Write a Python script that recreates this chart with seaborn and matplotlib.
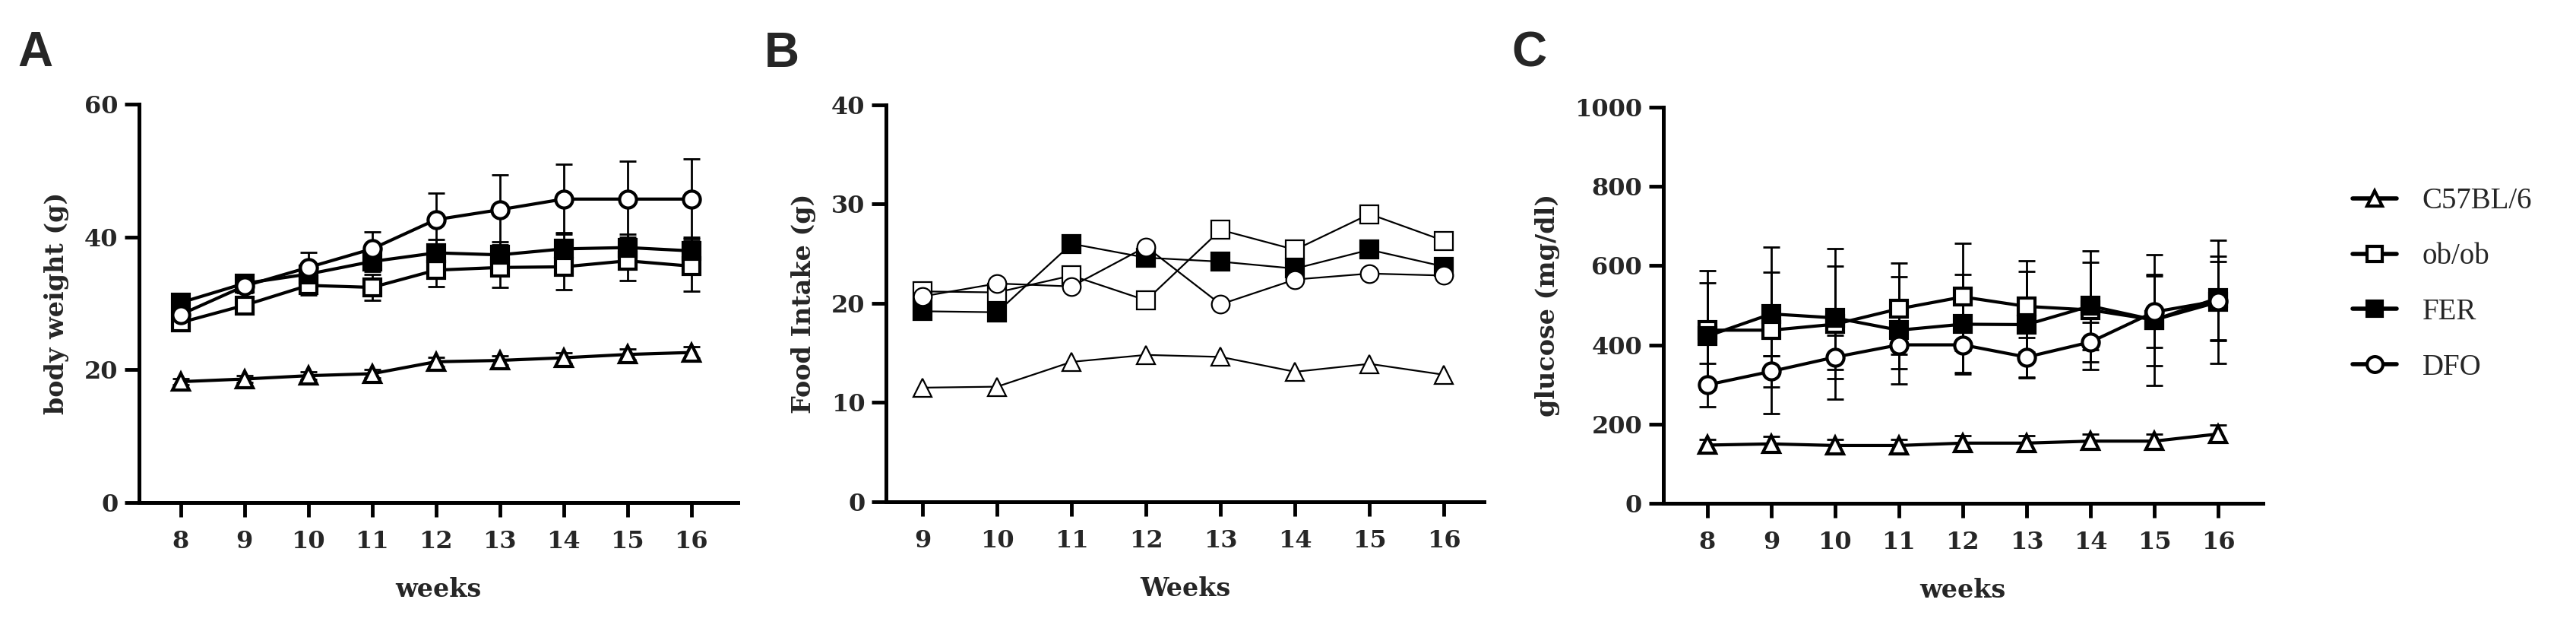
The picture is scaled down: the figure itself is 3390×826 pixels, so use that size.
import numpy as np
import pandas as pd
import seaborn as sns
import matplotlib.pyplot as plt
from matplotlib.lines import Line2D

sns.set_style("ticks")
plt.rcParams['font.family'] = ['DejaVu Serif']

groups = ["C57BL/6", "ob/ob", "FER", "DFO"]

# Panel A: body weight (g), mean and SD
weeks_a = [8, 9, 10, 11, 12, 13, 14, 15, 16]
bw_c57 = [18.2, 18.6, 19.1, 19.4, 21.2, 21.4, 21.8, 22.3, 22.6]
bw_ob = [27.1, 29.7, 32.7, 32.4, 35.0, 35.4, 35.5, 36.4, 35.6]
bw_fer = [30.1, 33.0, 34.4, 36.3, 37.6, 37.3, 38.2, 38.4, 37.9]
bw_dfo = [28.3, 32.6, 35.4, 38.2, 42.6, 44.1, 45.7, 45.7, 45.7]
bw_c57_sd = [0.5, 0.5, 0.6, 0.6, 0.7, 0.7, 0.8, 0.8, 0.9]
bw_ob_sd = [0.8, 0.8, 1.5, 2.0, 2.5, 3.0, 3.5, 3.0, 3.8]
bw_fer_sd = [0.6, 0.8, 1.0, 1.5, 2.0, 2.0, 2.5, 2.0, 2.0]
bw_dfo_sd = [0.8, 1.0, 2.3, 2.6, 4.0, 5.3, 5.3, 5.7, 6.0]

# Panel B: food intake (g)
weeks_b = [9, 10, 11, 12, 13, 14, 15, 16]
fi_c57 = [11.5, 11.6, 14.1, 14.8, 14.6, 13.1, 13.9, 12.8]
fi_ob = [21.2, 21.1, 22.8, 20.3, 27.4, 25.4, 29.0, 26.3]
fi_fer = [19.2, 19.1, 26.0, 24.6, 24.2, 23.5, 25.4, 23.7]
fi_dfo = [20.7, 22.0, 21.7, 25.7, 19.9, 22.4, 23.0, 22.8]

# Panel C: glucose (mg/dl), mean and SD
weeks_c = [8, 9, 10, 11, 12, 13, 14, 15, 16]
gl_c57 = [147, 150, 146, 146, 152, 152, 157, 157, 175]
gl_ob = [437, 437, 452, 491, 521, 497, 488, 463, 508]
gl_fer = [422, 478, 468, 437, 452, 451, 498, 463, 518]
gl_dfo = [299, 333, 369, 400, 400, 369, 407, 483, 511]
gl_c57_sd = [15, 18, 15, 15, 18, 18, 18, 18, 22]
gl_ob_sd = [150, 210, 190, 115, 135, 115, 150, 165, 155]
gl_fer_sd = [135, 105, 130, 135, 125, 135, 110, 115, 105]
gl_dfo_sd = [55, 40, 55, 60, 70, 50, 50, 90, 100]

marker_of = {"C57BL/6": "^", "ob/ob": "s", "FER": "s", "DFO": "o"}
face_of = {"C57BL/6": "white", "ob/ob": "white", "FER": "black", "DFO": "white"}

fig = plt.figure(figsize=(33.9, 8.26), dpi=100)
ax_a = fig.add_axes([0.0540, 0.1998, 0.2324, 0.6344])
ax_b = fig.add_axes([0.3440, 0.2010, 0.2322, 0.6320])
ax_c = fig.add_axes([0.6457, 0.1985, 0.2327, 0.6310])


def draw(ax, weeks, series, sds, lw, ms):
    for g, vals in zip(groups, series):
        df = pd.DataFrame({"week": weeks, "value": vals})
        sns.lineplot(data=df, x="week", y="value", ax=ax, color="black",
                     lw=lw, marker=marker_of[g], markersize=ms,
                     markerfacecolor=face_of[g], markeredgecolor="black",
                     markeredgewidth=lw, zorder=3)
    if sds is not None:
        for vals, sd in zip(series, sds):
            ax.errorbar(weeks, vals, yerr=sd, fmt="none", ecolor="black",
                        elinewidth=2.0, capsize=8, capthick=2.0, zorder=2)


draw(ax_a, weeks_a, [bw_c57, bw_ob, bw_fer, bw_dfo],
     [bw_c57_sd, bw_ob_sd, bw_fer_sd, bw_dfo_sd], 3.0, 16)
draw(ax_b, weeks_b, [fi_c57, fi_ob, fi_fer, fi_dfo], None, 1.6, 17)
draw(ax_c, weeks_c, [gl_c57, gl_ob, gl_fer, gl_dfo],
     [gl_c57_sd, gl_ob_sd, gl_fer_sd, gl_dfo_sd], 3.0, 16)

setup = [
    (ax_a, (7.35, 16.73), weeks_a, (0, 60), [0, 20, 40, 60], "weeks", "body weight (g)", "A"),
    (ax_b, (8.51, 16.54), weeks_b, (0, 40), [0, 10, 20, 30, 40], "Weeks", "Food Intake (g)", "B"),
    (ax_c, (7.31, 16.70), weeks_c, (0, 1000), [0, 200, 400, 600, 800, 1000], "weeks", "glucose (mg/dl)", "C"),
]
for ax, xl, xt, yl, yt, xlab, ylab, letter in setup:
    ax.set_xlim(*xl)
    ax.set_ylim(*yl)
    ax.set_xticks(xt)
    ax.set_yticks(yt)
    ax.tick_params(axis="both", width=3.5, length=14, labelsize=23, color="black")
    ax.tick_params(axis="x", pad=12)
    ax.tick_params(axis="y", pad=6)
    for lab in ax.get_xticklabels() + ax.get_yticklabels():
        lab.set_fontweight("bold")
    for side in ["left", "bottom"]:
        ax.spines[side].set_linewidth(3.6)
        ax.spines[side].set_color("black")
    sns.despine(ax=ax)
    ax.set_xlabel(xlab, fontsize=24, fontweight="bold", labelpad=22)
    ax.set_ylabel(ylab, fontsize=24, fontweight="bold", labelpad=14)
    ax.set_facecolor("white")

fig.text(46 / 3390, 1 - 70 / 826, "A", fontsize=46, fontweight="bold",
         family="Liberation Sans", ha="center", va="center")
fig.text(1029 / 3390, 1 - 71 / 826, "B", fontsize=46, fontweight="bold",
         family="Liberation Sans", ha="center", va="center")
fig.text(2012 / 3390, 1 - 71 / 826, "C", fontsize=46, fontweight="bold",
         family="Liberation Sans", ha="center", va="center")

handles = [Line2D([0], [0], color="black", lw=4, marker=marker_of[g], markersize=15,
                  markerfacecolor=face_of[g], markeredgecolor="black", markeredgewidth=3)
           for g in groups]
fig.legend(handles, groups, loc="center left", bbox_to_anchor=(3096 / 3390, 1 - 374 / 826),
           frameon=False, prop={"family": "Liberation Serif", "size": 28},
           handlelength=1.5, handletextpad=0.85,
           labelspacing=0.92, borderpad=0, borderaxespad=0)

fig.savefig("out.png", dpi=100, facecolor="white")
